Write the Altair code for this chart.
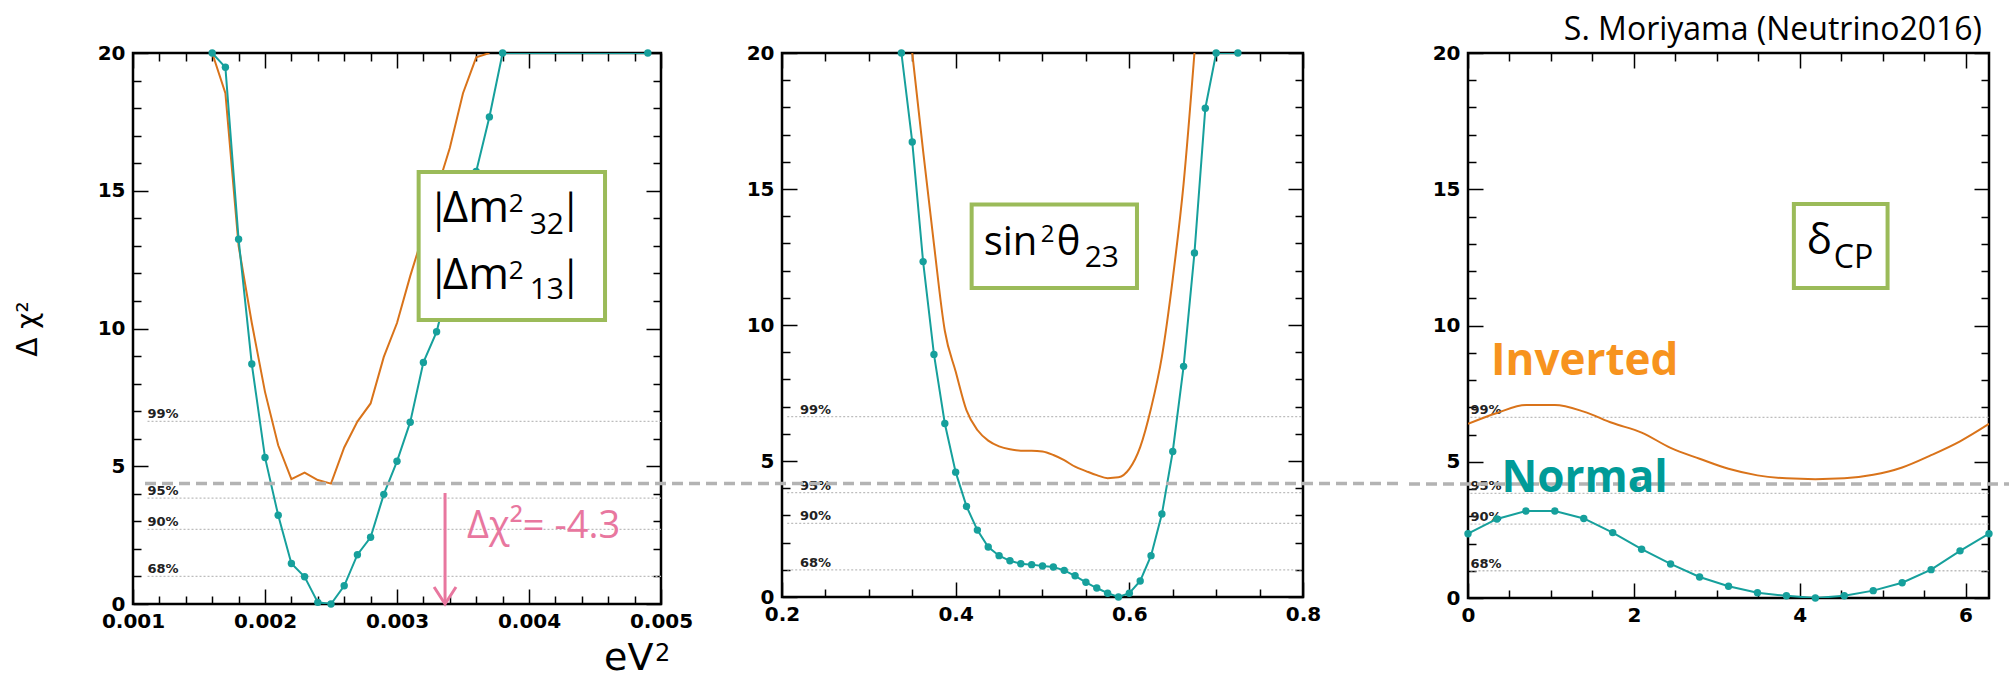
import altair as alt
import pandas as pd

# ---------------- data ----------------
# Panel 1 : |Δm²32|, |Δm²13|  [eV²]
p1_normal_x = [0.0016, 0.0017, 0.0018, 0.0019, 0.0020, 0.0021, 0.0022, 0.0023, 0.0024, 0.0025,
               0.0026, 0.0027, 0.0028, 0.0029, 0.0030, 0.0031, 0.0032, 0.0033, 0.0034, 0.0035,
               0.0036, 0.0037, 0.0038, 0.0049]
p1_normal_y = [20.0, 19.48, 13.24, 8.71, 5.32, 3.22, 1.47, 0.99, 0.06, 0.0,
               0.66, 1.79, 2.42, 3.98, 5.18, 6.60, 8.77, 9.88, 11.8, 13.8,
               15.7, 17.68, 20.0, 20.0]
p1_inverted_x = [0.0016, 0.0017, 0.0018, 0.0019, 0.0020, 0.0021, 0.0022, 0.0023, 0.0024, 0.0025,
                 0.0026, 0.0027, 0.0028, 0.0029, 0.0030, 0.0031, 0.0032, 0.0033, 0.0034, 0.0035,
                 0.0036, 0.0037]
p1_inverted_y = [20.0, 18.54, 13.0, 10.2, 7.7, 5.76, 4.53, 4.77, 4.50, 4.37,
                 5.68, 6.62, 7.28, 8.97, 10.2, 11.9, 13.45, 15.0, 16.55, 18.54,
                 19.84, 20.0]

# Panel 2 : sin²θ23
p2_normal_x = [0.3375, 0.35, 0.3625, 0.375, 0.3875, 0.4, 0.4125, 0.425, 0.4375, 0.45,
               0.4625, 0.475, 0.4875, 0.5, 0.5125, 0.525, 0.5375, 0.55, 0.5625, 0.575,
               0.5875, 0.6, 0.6125, 0.625, 0.6375, 0.65, 0.6625, 0.675, 0.6875, 0.7, 0.725]
p2_normal_y = [20.0, 16.73, 12.33, 8.92, 6.38, 4.59, 3.33, 2.46, 1.84, 1.52,
               1.33, 1.22, 1.19, 1.14, 1.10, 0.98, 0.78, 0.54, 0.33, 0.14,
               0.0, 0.14, 0.59, 1.52, 3.05, 5.35, 8.48, 12.65, 17.97, 20.0, 20.0]
p2_inverted_x = [0.35, 0.3625, 0.375, 0.3875, 0.4, 0.4125, 0.425, 0.4375, 0.45, 0.4625,
                 0.475, 0.4875, 0.5, 0.5125, 0.525, 0.5375, 0.55, 0.5625, 0.575, 0.5875,
                 0.6, 0.6125, 0.625, 0.6375, 0.65, 0.6625, 0.675]
p2_inverted_y = [20.0, 16.4, 12.97, 9.79, 8.29, 6.86, 6.14, 5.75, 5.54, 5.43,
                 5.38, 5.38, 5.35, 5.22, 5.03, 4.79, 4.63, 4.48, 4.37, 4.40,
                 4.71, 5.51, 6.94, 8.84, 11.7, 15.2, 20.0]

# Panel 3 : δCP
p3_x = [0.0, 0.349, 0.698, 1.047, 1.396, 1.745, 2.094, 2.443, 2.793, 3.142,
        3.491, 3.840, 4.189, 4.538, 4.887, 5.236, 5.585, 5.934, 6.283]
p3_normal_y = [2.36, 2.90, 3.19, 3.19, 2.92, 2.40, 1.79, 1.25, 0.77, 0.43,
               0.19, 0.08, 0.0, 0.08, 0.27, 0.56, 1.04, 1.73, 2.36]
p3_inverted_y = [6.39, 6.79, 7.08, 7.08, 6.84, 6.42, 6.07, 5.51, 5.11, 4.74,
                 4.50, 4.39, 4.36, 4.39, 4.52, 4.79, 5.24, 5.75, 6.39]

# confidence levels
cl_labels = ["68%", "90%", "95%", "99%"]
cl_values = [1.0, 2.71, 3.84, 6.63]

# axis tick labels / tick marks
p1_xlabels = [0.001, 0.002, 0.003, 0.004, 0.005]
p1_xminor = [0.0012, 0.0014, 0.0016, 0.0018, 0.0022, 0.0024, 0.0026, 0.0028,
             0.0032, 0.0034, 0.0036, 0.0038, 0.0042, 0.0044, 0.0046, 0.0048]
p2_xlabels = [0.2, 0.4, 0.6, 0.8]
p2_xminor = [0.25, 0.3, 0.35, 0.45, 0.5, 0.55, 0.65, 0.7, 0.75]
p3_xlabels = [0, 2, 4, 6]
p3_xminor = [0.5, 1, 1.5, 2.5, 3, 3.5, 4.5, 5, 5.5]
y_labels = [0, 5, 10, 15, 20]
y_minor = [1, 2, 3, 4, 6, 7, 8, 9, 11, 12, 13, 14, 16, 17, 18, 19]

# Δχ² difference line drawn across the slide (value in each panel's units)
dchi_line = [4.37, 4.17, 4.18]

# ---------------- style / layout ----------------
TEAL = "#16a09c"
ORANGE = "#d9731a"
GREEN = "#9bbb59"
PINK = "#e8779f"
GRAY = "#b3b3b3"
AXFONT = "DejaVu Sans"
TXTFONT = "Open Sans"

W = [528, 521, 521]
H = [551, 544, 545]
TOP = 51
LEFT0 = 131
XDOM = [[0.001, 0.005], [0.2, 0.8], [0.0, 6.2832]]
YDOM = [0, 20]
# dashed line reach beyond each plot (left, right), in pixels
DASH_EXT = [(-12, 57), (58, 100), (59, 20)]


def sc(dom):
    return alt.Scale(domain=dom, nice=False, zero=False)


def XE(i, field="x"):
    return alt.X(f"{field}:Q", scale=sc(XDOM[i]), axis=None)


def YE(field="y"):
    return alt.Y(f"{field}:Q", scale=sc(YDOM), axis=None)


def tick_layers(i, xmaj, xmin):
    base = alt.Chart(pd.DataFrame({"x": [XDOM[i][0]], "y": [0]})).mark_point(opacity=0)

    def ax(orient, off, vals, size):
        return alt.Axis(orient=orient, offset=off, values=vals, tickSize=size, labels=False,
                        domain=False, grid=False, title=None, tickColor="black", tickWidth=1.5)

    out = []
    for xv, yv, size in [(xmaj, y_labels, 15), (xmin, y_minor, 8)]:
        out.append(base.encode(
            x=alt.X("x:Q", scale=sc(XDOM[i]), axis=ax("top", -H[i], xv, size)),
            y=alt.Y("y:Q", scale=sc(YDOM), axis=ax("right", -W[i], yv, size))))
        out.append(base.encode(
            x=alt.X("x:Q", scale=sc(XDOM[i]), axis=ax("bottom", -H[i], xv, size)),
            y=alt.Y("y:Q", scale=sc(YDOM), axis=ax("left", -W[i], yv, size))))
    return out


def curves(i, nx, ny, ix, iy, xaxis, yaxis, smooth):
    inv = alt.Chart(pd.DataFrame({"x": ix, "y": iy})).mark_line(
        color=ORANGE, strokeWidth=2, clip=True,
        interpolate="monotone" if smooth else "linear").encode(
        x=alt.X("x:Q", scale=sc(XDOM[i]), axis=xaxis), y=alt.Y("y:Q", scale=sc(YDOM), axis=yaxis))
    nd = pd.DataFrame({"x": nx, "y": ny})
    nl = alt.Chart(nd).mark_line(color=TEAL, strokeWidth=2, clip=True).encode(x=XE(i), y=YE())
    npt = alt.Chart(nd).mark_point(color=TEAL, filled=True, opacity=1, size=55).encode(x=XE(i), y=YE())
    return [inv, nl, npt]


def cl_layers(i, x0, lx):
    d = pd.DataFrame({"x": [x0] * 4, "x2": [XDOM[i][1]] * 4, "lx": [lx] * 4,
                      "y": cl_values, "t": cl_labels})
    r = alt.Chart(d).mark_rule(color="#bdbdbd", strokeWidth=1.3, strokeDash=[2, 2]).encode(
        x=XE(i), x2="x2:Q", y=YE())
    t = alt.Chart(d).mark_text(align="left", baseline="alphabetic", dy=-3, font=AXFONT,
                               fontWeight="bold", fontSize=13, color="#222").encode(
        x=XE(i, "lx"), y=YE(), text="t:N")
    return [r, t]


def frame_layers(i):
    x0, x1 = DASH_EXT[i]
    dash = alt.Chart(pd.DataFrame({"y": [dchi_line[i]]})).mark_rule(
        color=GRAY, strokeWidth=3.5, strokeDash=[11, 6], clip=False).encode(
        y=YE(), x=alt.value(-x0), x2=alt.value(W[i] + x1))
    # invisible guide fixing where the panel sits on the page
    left = LEFT0 if i == 0 else 0
    guide = alt.Chart(pd.DataFrame({"y": [0]})).mark_rule(opacity=0, strokeOpacity=0).encode(
        x=alt.value(-left), x2=alt.value(1), y=alt.value(-TOP))
    return [dash, guide]


def box_layers(i, bx, pieces):
    rect = alt.Chart(pd.DataFrame({"x": [bx[0]], "x2": [bx[1]], "y": [bx[2]], "y2": [bx[3]]})).mark_rect(
        fill="white", stroke=GREEN, strokeWidth=4).encode(x=XE(i), x2="x2:Q", y=YE(), y2="y2:Q")
    out = [rect]
    for txt, size, dx, dy in pieces:
        out.append(alt.Chart(pd.DataFrame({"x": [bx[0]], "y": [bx[2]], "t": [txt]})).mark_text(
            align="left", baseline="alphabetic", font=TXTFONT, fontSize=size, color="black",
            dx=dx, dy=dy).encode(x=XE(i), y=YE(), text="t:N"))
    return out


def data_text(i, x, y, txt, **kw):
    return alt.Chart(pd.DataFrame({"x": [x], "y": [y], "t": [txt]})).mark_text(
        align="left", baseline="alphabetic", **kw).encode(x=XE(i), y=YE(), text="t:N")


def page_text(px, py, txt, **kw):
    return alt.Chart(pd.DataFrame({"t": [txt]})).mark_text(**kw).encode(
        x=alt.value(px), y=alt.value(py), text="t:N")


lab = dict(ticks=False, tickSize=0, domain=False, grid=False, labelFont=AXFONT,
           labelFontWeight="bold", labelFontSize=20, labelColor="black", labelFlush=False,
           labelOverlap=False, title=None)


def xaxis(vals, fmt):
    return alt.Axis(orient="bottom", values=vals, format=fmt, labelPadding=7, **lab)


yaxis = alt.Axis(orient="left", values=y_labels, format="d", labelPadding=8, **lab)

# ---------------- panel 1 ----------------
arrow_x = 0.003364
arrow_rule = alt.Chart(pd.DataFrame({"x": [arrow_x], "y": [4.03], "y2": [0.05]})).mark_rule(
    color=PINK, strokeWidth=3).encode(x=XE(0), y=YE(), y2="y2:Q")
arrow_head = alt.Chart(pd.DataFrame({"x": [arrow_x], "y": [0.0]})).mark_point(
    shape="M-1,-1.55L0,0L1,-1.55", filled=False, color=PINK, strokeWidth=3, size=480,
    opacity=1).encode(x=XE(0), y=YE())

box1 = [
    ("|", 40, 9, 50), ("Δm", 44, 24, 50), ("2", 26, 90, 40), ("32", 30, 111, 62), ("|", 40, 141, 50),
    ("|", 40, 9, 117), ("Δm", 44, 24, 117), ("2", 26, 90, 107), ("13", 30, 111, 127), ("|", 40, 141, 117),
]
p1_layers = (
    tick_layers(0, p1_xlabels, p1_xminor)
    + cl_layers(0, 0.00111, 0.00111)
    + curves(0, p1_normal_x, p1_normal_y, p1_inverted_x, p1_inverted_y,
             xaxis(p1_xlabels, ".3f"), yaxis, False)
    + box_layers(0, [0.003164, 0.004576, 15.68, 10.31], box1)
    + [arrow_rule, arrow_head,
       data_text(0, 0.00353, 2.4, "Δχ²= -4.3", font=TXTFONT, fontSize=38, color=PINK),
       page_text(-104, 276, "Δ χ²", angle=270, align="center", baseline="middle",
                 font="DejaVu Sans", fontSize=28, color="black"),
       page_text(471, 617, "eV", align="left", baseline="alphabetic", font=AXFONT,
                 fontSize=38, color="black"),
       page_text(522, 608, "2", align="left", baseline="alphabetic", font=AXFONT,
                 fontSize=24, color="black")]
    + frame_layers(0)
)
p1 = alt.layer(*p1_layers).resolve_axis(x="independent", y="independent").properties(
    width=W[0], height=H[0])

# ---------------- panel 2 ----------------
box2 = [("sin", 40, 12, 50), ("2", 24, 69, 37), ("θ", 40, 85, 50), ("23", 30, 113, 62)]
p2_layers = (
    tick_layers(1, p2_xlabels, p2_xminor)
    + cl_layers(1, 0.206, 0.2207)
    + curves(1, p2_normal_x, p2_normal_y, p2_inverted_x, p2_inverted_y,
             xaxis(p2_xlabels, ".1f"), yaxis, True)
    + box_layers(1, [0.4184, 0.6088, 14.43, 11.36], box2)
    + frame_layers(1)
)
p2 = alt.layer(*p2_layers).resolve_axis(x="independent", y="independent").properties(
    width=W[1], height=H[1])

# ---------------- panel 3 ----------------
box3 = [("δ", 42, 13, 50), ("CP", 32, 40, 64)]
p3_layers = (
    tick_layers(2, p3_xlabels, p3_xminor)
    + cl_layers(2, 0.03, 0.03)
    + curves(2, p3_x, p3_normal_y, p3_x, p3_inverted_y, xaxis(p3_xlabels, "d"), yaxis, True)
    + box_layers(2, [3.93, 5.06, 14.46, 11.38], box3)
    + frame_layers(2)
    + [data_text(2, 0.277, 8.17, "Inverted", font=TXTFONT, fontSize=44, fontWeight="bold",
                 color="#f7931e"),
       data_text(2, 0.405, 3.89, "Normal", font=TXTFONT, fontSize=44, fontWeight="bold",
                 color="#009b98"),
       page_text(514, -13, "S. Moriyama (Neutrino2016)", align="right", baseline="alphabetic",
                 font=TXTFONT, fontSize=32, color="black")]
)
p3 = alt.layer(*p3_layers).resolve_axis(x="independent", y="independent").properties(
    width=W[2], height=H[2])

chart = alt.hconcat(p1, p2, p3, spacing=0).properties(
    padding={"left": 0, "top": 0, "right": 0, "bottom": 0},
).configure_view(stroke="black", strokeWidth=2.5).configure_axis(grid=False)

chart.save("out.html", embed_options={"renderer": "svg", "actions": False})
